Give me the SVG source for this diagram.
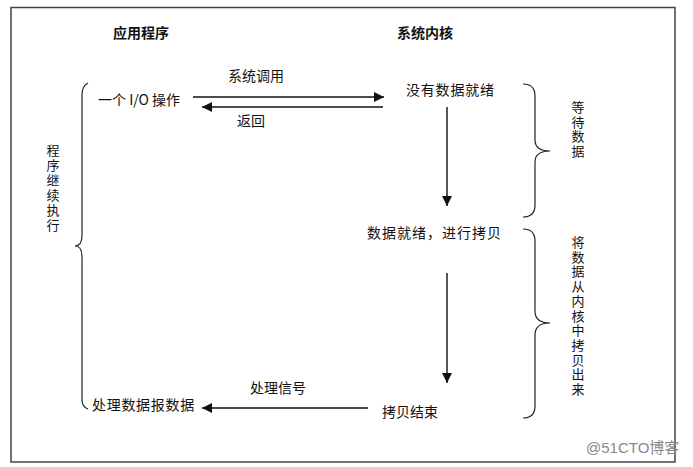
<svg xmlns="http://www.w3.org/2000/svg" width="693" height="467" viewBox="0 0 693 467">
<defs>
<style>
text{font-family:"Noto Sans CJK SC","Liberation Sans",sans-serif;font-size:14px;fill:#111;}
.h{font-weight:bold;font-size:14px;}
.v{text-anchor:middle;font-size:13px;}
.ln{stroke:#111;stroke-width:1.4;fill:none;}
.br{stroke:#222;stroke-width:1.2;fill:none;}
.wm{fill:#888;font-size:15px;font-family:"Liberation Sans","Noto Sans CJK SC",sans-serif;}
</style>
<marker id="ah" viewBox="0 0 10 10" refX="10" refY="5" markerWidth="10" markerHeight="10" markerUnits="userSpaceOnUse" orient="auto">
<path d="M0,0 L10,5 L0,10 Z" fill="#111"/>
</marker>
</defs>
<rect x="0" y="0" width="693" height="467" fill="#fff"/>
<rect x="11" y="7.5" width="664" height="454.5" fill="none" stroke="#444" stroke-width="1.5"/>

<g id="header-app"><text class="h" x="113" y="38">应用程序</text></g>
<g id="header-kernel"><text class="h" x="397" y="38">系统内核</text></g>

<g id="node-io"><text x="98" y="105">一个 I/O 操作</text></g>
<g id="node-nodata"><text x="406" y="95" letter-spacing="0.8">没有数据就绪</text></g>
<g id="node-ready"><text x="367" y="238" letter-spacing="1">数据就绪，进行拷贝</text></g>
<g id="node-done"><text x="382" y="417">拷贝结束</text></g>
<g id="node-process"><text x="92" y="410" letter-spacing="0.7">处理数据报数据</text></g>

<g id="connectors">
<line class="ln" x1="193" y1="97" x2="384" y2="97" marker-end="url(#ah)"/>
<line class="ln" x1="383" y1="107" x2="202" y2="107" marker-end="url(#ah)"/>
<line class="ln" x1="447" y1="107" x2="447" y2="206" marker-end="url(#ah)"/>
<line class="ln" x1="447" y1="273" x2="447" y2="383" marker-end="url(#ah)"/>
<line class="ln" x1="368" y1="408" x2="202" y2="408" marker-end="url(#ah)"/>
<text x="228" y="81">系统调用</text>
<text x="237" y="126">返回</text>
<text x="250" y="393">处理信号</text>
</g>

<g id="brace-left">
<path class="br" d="M88,83 Q82,86 82,95 L82,235 Q82,246 75,246 Q82,246 82,257 L82,400 Q82,407 88,409"/>
<text class="v" x="53" y="155">程</text>
<text class="v" x="53" y="170">序</text>
<text class="v" x="53" y="185">继</text>
<text class="v" x="53" y="200">续</text>
<text class="v" x="53" y="215">执</text>
<text class="v" x="53" y="230">行</text>
</g>

<g id="brace-wait">
<path class="br" d="M523,84 Q535,84 535,96 L535,140 Q535,151 550,151 Q535,151 535,162 L535,205 Q535,217 523,217"/>
<text class="v" x="578" y="112">等</text>
<text class="v" x="578" y="126.5">待</text>
<text class="v" x="578" y="141">数</text>
<text class="v" x="578" y="155.5">据</text>
</g>

<g id="brace-copy">
<path class="br" d="M523,229 Q535,229 535,241 L535,311 Q535,323 550,323 Q535,323 535,335 L535,406 Q535,418 523,418"/>
<text class="v" x="578" y="247">将</text>
<text class="v" x="578" y="261.7">数</text>
<text class="v" x="578" y="276.4">据</text>
<text class="v" x="578" y="291.1">从</text>
<text class="v" x="578" y="305.8">内</text>
<text class="v" x="578" y="320.5">核</text>
<text class="v" x="578" y="335.2">中</text>
<text class="v" x="578" y="349.9">拷</text>
<text class="v" x="578" y="364.6">贝</text>
<text class="v" x="578" y="379.3">出</text>
<text class="v" x="578" y="394">来</text>
</g>

<text class="wm" x="586" y="453">@51CTO博客</text>
</svg>
